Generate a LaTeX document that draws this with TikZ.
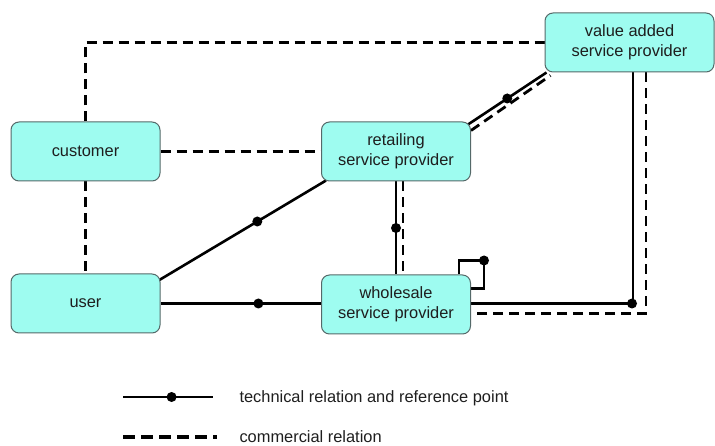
\documentclass[tikz,border=0pt]{standalone}
\usepackage{fontspec}
\setmainfont{Liberation Sans}
\usetikzlibrary{backgrounds}
\definecolor{boxfill}{RGB}{158,252,240}
\definecolor{boxline}{RGB}{85,105,105}
\definecolor{txt}{RGB}{30,30,30}
\begin{document}
\begin{tikzpicture}[x=1pt,y=-1pt,
  party/.style={draw=boxline,line width=1pt,fill=boxfill,rounded corners=8pt,
    minimum width=149pt,minimum height=59pt,inner sep=0pt,align=center,
    text=txt,font=\fontsize{16.4}{19.5}\selectfont},
  tech/.style={line width=2.6pt,black},
  comm/.style={line width=2.8pt,black,dash pattern=on 10pt off 6pt},
  refpt/.style={circle,fill=black,inner sep=0pt,minimum size=10pt},
  legtext/.style={anchor=west,text=txt,font=\fontsize{16.4}{19.5}\selectfont}]
\useasboundingbox (0,0) rectangle (715,446);

% actors
\node[party] (customer)  at (85.5,151.5) {customer};
\node[party] (user)      at (85.5,303.5) {user};
\node[party] (retail)    at (396,151.5)  {retailing\\service provider};
\node[party] (wholesale) at (396,304.5)  {wholesale\\service provider};
\node[party,minimum width=169pt] (vas) at (629.5,42.5) {value added\\service provider};

\begin{scope}[on background layer]
  % commercial relations
  \draw[comm] (customer.north) |- (vas.west);
  \draw[comm] (customer.east) -- (retail.west);
  \draw[comm] (customer.south) -- (user.north);
  \draw[comm] ([shift={(0,9)}]retail.north east) -- ([shift={(6,3)}]vas.south west);
  \draw[comm] ([xshift=7pt]retail.south) -- ([xshift=7pt]wholesale.north);
  \draw[comm] ([xshift=16.5pt]vas.south) |- ([shift={(0,9)}]wholesale.east);

  % technical relations with reference points
  \draw[tech] ([shift={(-3,3)}]retail.north east) -- ([shift={(2,0)}]vas.south west)
    node[refpt,pos=0.5] (r1) {};
  \draw[tech] (retail.south) -- (wholesale.north) node[refpt,pos=0.5] (r2) {};
  \draw[tech] ([shift={(-2,7)}]user.north east) -- ([shift={(5,-1)}]retail.south west)
    node[refpt,pos=0.59] (r3) {};
  \draw[tech] (user.east) -- (user.east -| wholesale.west)
    node[refpt,pos=0.61] (r4) {};
  \draw[tech] ([xshift=3.5pt]vas.south) |- ([shift={(0,-1)}]wholesale.east)
    coordinate[pos=0.5] (vcorner);
  \node[refpt] (r5) at ([xshift=-1pt]vcorner) {};
  \draw[tech] ([xshift=-12pt]wholesale.north east) -- ++(0,-14)
    -- ++(25,0) coordinate (lcorner) -- ++(0,28) -- ++(-15,0);
  \node[refpt] (r6) at (lcorner) {};
\end{scope}

% legend
\coordinate (la) at (123,397);
\coordinate (lb) at (213,397);
\draw[tech] (la) -- (lb) node[refpt,pos=0.54] (lr) {};
\node[legtext] (lt1) at (236,398) {technical relation and reference point};
\coordinate (lc) at (123,437);
\coordinate (ld) at (217,437);
\draw[line width=3.4pt,black,dash pattern=on 12pt off 6pt] (lc) -- (ld);
\node[legtext] (lt2) at (236,437) {commercial relation};
\end{tikzpicture}
\end{document}
